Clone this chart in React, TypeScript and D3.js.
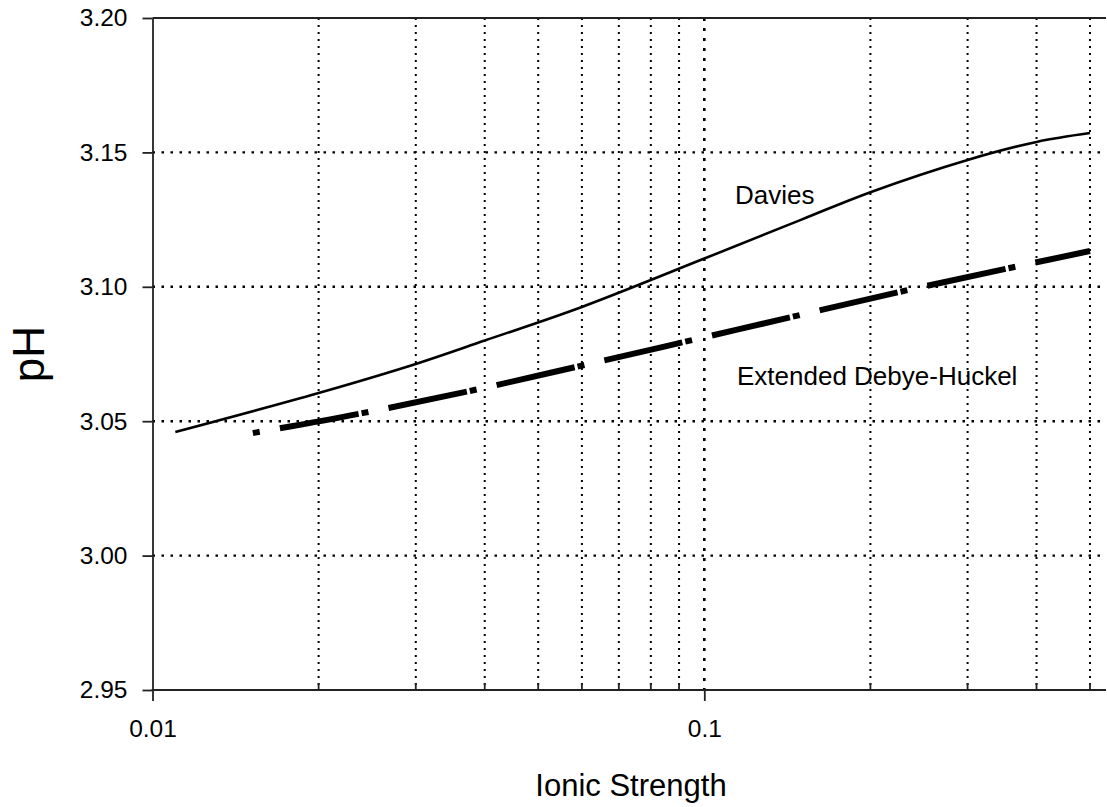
import React, { useEffect, useRef } from "react";
import * as d3 from "d3";

// Davies curve
const daviesIonic = [0.011, 0.02, 0.03, 0.04, 0.06, 0.1, 0.15, 0.2, 0.3, 0.4, 0.5];
const daviesPH = [3.046, 3.0605, 3.0713, 3.08, 3.0925, 3.1105, 3.125, 3.1352, 3.1472, 3.1539, 3.1572];

// Extended Debye-Huckel curve
const edhIonic = [0.0152, 0.024, 0.0375, 0.0586, 0.092, 0.144, 0.226, 0.5];
const edhPH = [3.0456, 3.053, 3.0612, 3.0702, 3.0795, 3.0888, 3.0981, 3.1133];

const yTicks = [2.95, 3.0, 3.05, 3.1, 3.15, 3.2];
const xMajorTicks = [0.01, 0.1];
const xMajorLabels = ["0.01", "0.1"];
const xMinorTicks = [0.02, 0.03, 0.04, 0.05, 0.06, 0.07, 0.08, 0.09, 0.2, 0.3, 0.4, 0.5];

const W = 1107;
const H = 807;
const FONT = "'Liberation Sans', Arial, Helvetica, sans-serif";

const App = () => {
  const ref = useRef<SVGSVGElement>(null);

  useEffect(() => {
    const margin = { top: 18, right: 17, bottom: 117, left: 152.5 };
    const svg = d3.select(ref.current);
    svg.selectAll("*").remove();

    const x = d3
      .scaleLog()
      .domain([0.01, 0.5])
      .range([margin.left, W - margin.right]);
    const y = d3
      .scaleLinear()
      .domain([2.95, 3.2])
      .range([H - margin.bottom, margin.top]);
    const rightEdge = W - 1;

    // vertical dotted grid
    svg
      .append("g")
      .selectAll("line")
      .data([...xMinorTicks, 0.1])
      .join("line")
      .attr("x1", (d) => x(d))
      .attr("x2", (d) => x(d))
      .attr("y1", y(3.2))
      .attr("y2", y(2.95))
      .attr("stroke", "#000")
      .attr("stroke-width", (d) => (d === 0.1 ? 2.6 : 2))
      .attr("stroke-dasharray", (d) => (d === 0.1 ? "3 7" : "2 5"));

    // horizontal dotted grid
    svg
      .append("g")
      .selectAll("line")
      .data(yTicks.slice(1, -1))
      .join("line")
      .attr("x1", margin.left)
      .attr("x2", rightEdge)
      .attr("y1", (d) => y(d))
      .attr("y2", (d) => y(d))
      .attr("stroke", "#000")
      .attr("stroke-width", 2.4)
      .attr("stroke-dasharray", "2.5 6.5");

    // top border line
    svg
      .append("line")
      .attr("x1", margin.left)
      .attr("x2", rightEdge)
      .attr("y1", y(3.2))
      .attr("y2", y(3.2))
      .attr("stroke", "#222")
      .attr("stroke-width", 1.8);

    // y axis
    svg
      .append("g")
      .attr("transform", `translate(${margin.left},0)`)
      .call(
        d3
          .axisLeft(y)
          .tickValues(yTicks)
          .tickFormat(d3.format(".2f"))
          .tickSize(10)
          .tickSizeOuter(0)
          .tickPadding(15)
      )
      .call((g) => g.select(".domain").attr("stroke", "#222").attr("stroke-width", 1.8))
      .call((g) => g.selectAll(".tick line").attr("stroke", "#222").attr("stroke-width", 1.8))
      .call((g) =>
        g.selectAll("text").attr("font-family", FONT).attr("font-size", 24.5).attr("fill", "#000")
      );

    // x axis
    const xAxis = svg
      .append("g")
      .attr("transform", `translate(0,${y(2.95)})`)
      .call(
        d3
          .axisBottom(x)
          .tickValues(xMajorTicks)
          .tickFormat((d, i) => xMajorLabels[i])
          .tickSize(11)
          .tickSizeOuter(0)
          .tickPadding(19)
      );
    xAxis.select(".domain").remove();
    xAxis.selectAll(".tick line").attr("stroke", "#222").attr("stroke-width", 1.8);
    xAxis
      .selectAll("text")
      .attr("font-family", FONT)
      .attr("font-size", 24.5)
      .attr("fill", "#000");
    xAxis
      .append("line")
      .attr("x1", margin.left - 1)
      .attr("x2", rightEdge)
      .attr("stroke", "#222")
      .attr("stroke-width", 1.8);
    // minor ticks point inward
    xAxis
      .append("g")
      .selectAll("line")
      .data(xMinorTicks)
      .join("line")
      .attr("x1", (d) => x(d))
      .attr("x2", (d) => x(d))
      .attr("y1", 0)
      .attr("y2", -7)
      .attr("stroke", "#222")
      .attr("stroke-width", 1.8);

    // Davies
    const daviesData = daviesIonic.map((v, i) => [v, daviesPH[i]] as [number, number]);
    svg
      .append("path")
      .datum(daviesData)
      .attr("fill", "none")
      .attr("stroke", "#000")
      .attr("stroke-width", 2.6)
      .attr(
        "d",
        d3
          .line<[number, number]>()
          .x((d) => x(d[0]))
          .y((d) => y(d[1]))
          .curve(d3.curveCatmullRom.alpha(0.5))
      );

    // Extended Debye-Huckel, long dash dot
    const edhData = edhIonic.map((v, i) => [v, edhPH[i]] as [number, number]);
    svg
      .append("path")
      .datum(edhData)
      .attr("fill", "none")
      .attr("stroke", "#000")
      .attr("stroke-width", 6)
      .attr("stroke-linecap", "butt")
      .attr("stroke-dasharray", "7 20.5 80 3")
      .attr(
        "d",
        d3
          .line<[number, number]>()
          .x((d) => x(d[0]))
          .y((d) => y(d[1]))
          .curve(d3.curveMonotoneX)
      );

    // curve labels
    svg
      .append("text")
      .attr("x", 735)
      .attr("y", 204)
      .attr("font-family", FONT)
      .attr("font-size", 26)
      .text("Davies");
    svg
      .append("text")
      .attr("x", 737)
      .attr("y", 385)
      .attr("font-family", FONT)
      .attr("font-size", 26)
      .text("Extended Debye-Huckel");

    // axis titles
    svg
      .append("text")
      .attr("x", 631)
      .attr("y", 796)
      .attr("text-anchor", "middle")
      .attr("font-family", FONT)
      .attr("font-size", 31)
      .text("Ionic Strength");
    svg
      .append("text")
      .attr("transform", `translate(44,354) rotate(-90)`)
      .attr("text-anchor", "middle")
      .attr("font-family", FONT)
      .attr("font-size", 44)
      .text("pH");
  }, []);

  return (
    <svg
      ref={ref}
      width={W}
      height={H}
      style={{ position: "absolute", left: 0, top: 0, background: "#fff" }}
    />
  );
};

export default App;
